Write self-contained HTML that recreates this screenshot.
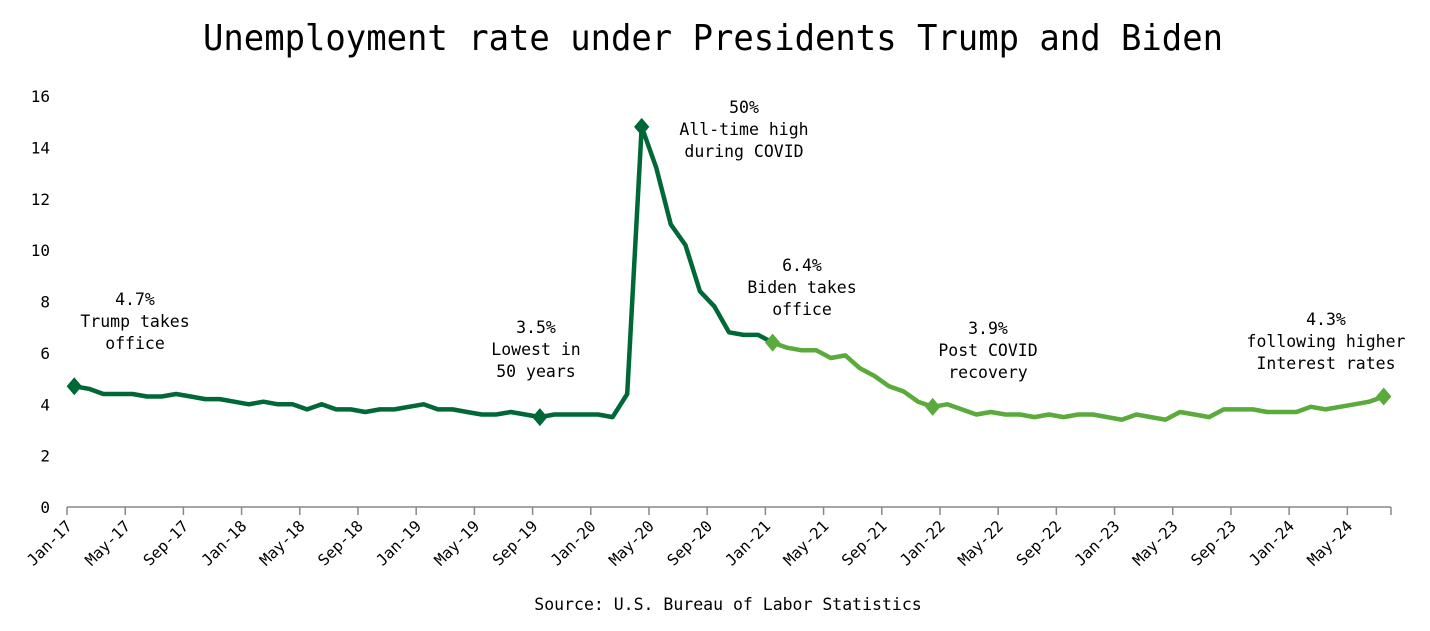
<!DOCTYPE html>
<html><head><meta charset="utf-8"><style>
html,body{margin:0;padding:0;background:#fff;}
svg{display:block;font-family:"DejaVu Sans Mono","Liberation Mono",monospace;}
</style></head><body>
<svg id="c" width="1430" height="631" viewBox="0 0 1430 631" xmlns="http://www.w3.org/2000/svg">
<text x="203" y="50" font-size="36" textLength="1020" lengthAdjust="spacingAndGlyphs" fill="#000">Unemployment rate under Presidents Trump and Biden</text>
<g font-size="16" fill="#000" text-anchor="end" id="yl"></g>
<line x1="67" y1="507" x2="1391" y2="507" stroke="#888" stroke-width="1.5"/>
<g id="ticks" stroke="#888" stroke-width="1.5"></g>
<g id="xl" font-size="15.5" fill="#000"></g>
<polyline id="p1" fill="none" stroke="#006837" stroke-width="4.5" stroke-linejoin="round"/>
<polyline id="p2" fill="none" stroke="#5aaa3c" stroke-width="4.5" stroke-linejoin="round"/>
<g id="mk"></g>
<g font-size="16.5" fill="#000" text-anchor="middle">
<text x="135" y="305">4.7%</text><text x="135" y="327">Trump takes</text><text x="135" y="349">office</text>
<text x="536" y="333">3.5%</text><text x="536" y="355">Lowest in</text><text x="536" y="377">50 years</text>
<text x="744" y="113">50%</text><text x="744" y="135">All-time high</text><text x="744" y="157">during COVID</text>
<text x="802" y="271">6.4%</text><text x="802" y="293">Biden takes</text><text x="802" y="315">office</text>
<text x="988" y="334">3.9%</text><text x="988" y="356">Post COVID</text><text x="988" y="378">recovery</text>
<text x="1326" y="325">4.3%</text><text x="1326" y="347">following higher</text><text x="1326" y="369">Interest rates</text>
<text x="728" y="610">Source: U.S. Bureau of Labor Statistics</text>
</g>
</svg>
<script>
var d=[4.7,4.6,4.4,4.4,4.4,4.3,4.3,4.4,4.3,4.2,4.2,4.1,
4.0,4.1,4.0,4.0,3.8,4.0,3.8,3.8,3.7,3.8,3.8,3.9,
4.0,3.8,3.8,3.7,3.6,3.6,3.7,3.6,3.5,3.6,3.6,3.6,
3.6,3.5,4.4,14.8,13.2,11.0,10.2,8.4,7.8,6.8,6.7,6.7,
6.4,6.2,6.1,6.1,5.8,5.9,5.4,5.1,4.7,4.5,4.1,3.9,
4.0,3.8,3.6,3.7,3.6,3.6,3.5,3.6,3.5,3.6,3.6,3.5,
3.4,3.6,3.5,3.4,3.7,3.6,3.5,3.8,3.8,3.8,3.7,3.7,
3.7,3.9,3.8,3.9,4.0,4.1,4.3];
var X0=67,W=(1391-67)/91,Y0=507,S=(507-96)/16;
function X(i){return X0+W*(i+0.5);}function Y(v){return Y0-S*v;}
var NS="http://www.w3.org/2000/svg";
function el(p,t,a,txt){var e=document.createElementNS(NS,t);for(var k in a)e.setAttribute(k,a[k]);if(txt!=null)e.textContent=txt;document.getElementById(p).appendChild(e);}
for(var v=0;v<=16;v+=2)el("yl","text",{x:50,y:Y(v)+6},String(v));
var mo=["Jan","May","Sep"];
for(var k=0;k<=22;k++){var x=X0+W*4*k;el("ticks","line",{x1:x,y1:507,x2:x,y2:515});
 if(4*k<91){var yr=17+Math.floor(k/3);var lab=mo[k%3]+"-"+yr;
 el("xl","text",{x:x+6,y:527,"text-anchor":"end",transform:"rotate(-45 "+(x+6)+" 527)"},lab);}}
el("ticks","line",{x1:1391,y1:507,x2:1391,y2:515});
var a=[],b=[];for(var i=0;i<d.length;i++){var pt=X(i).toFixed(1)+","+Y(d[i]).toFixed(1);if(i<=48)a.push(pt);if(i>=48)b.push(pt);}
document.getElementById("p1").setAttribute("points",a.join(" "));
document.getElementById("p2").setAttribute("points",b.join(" "));
[[0,"#006837"],[32,"#006837"],[39,"#006837"],[48,"#5aaa3c"],[59,"#5aaa3c"],[90,"#5aaa3c"]].forEach(function(m){var x=X(m[0]),y=Y(d[m[0]]),r=9;
el("mk","polygon",{points:x+","+(y-r)+" "+(x+r*0.85)+","+y+" "+x+","+(y+r)+" "+(x-r*0.85)+","+y,fill:m[1]});});
</script>
</body></html>
